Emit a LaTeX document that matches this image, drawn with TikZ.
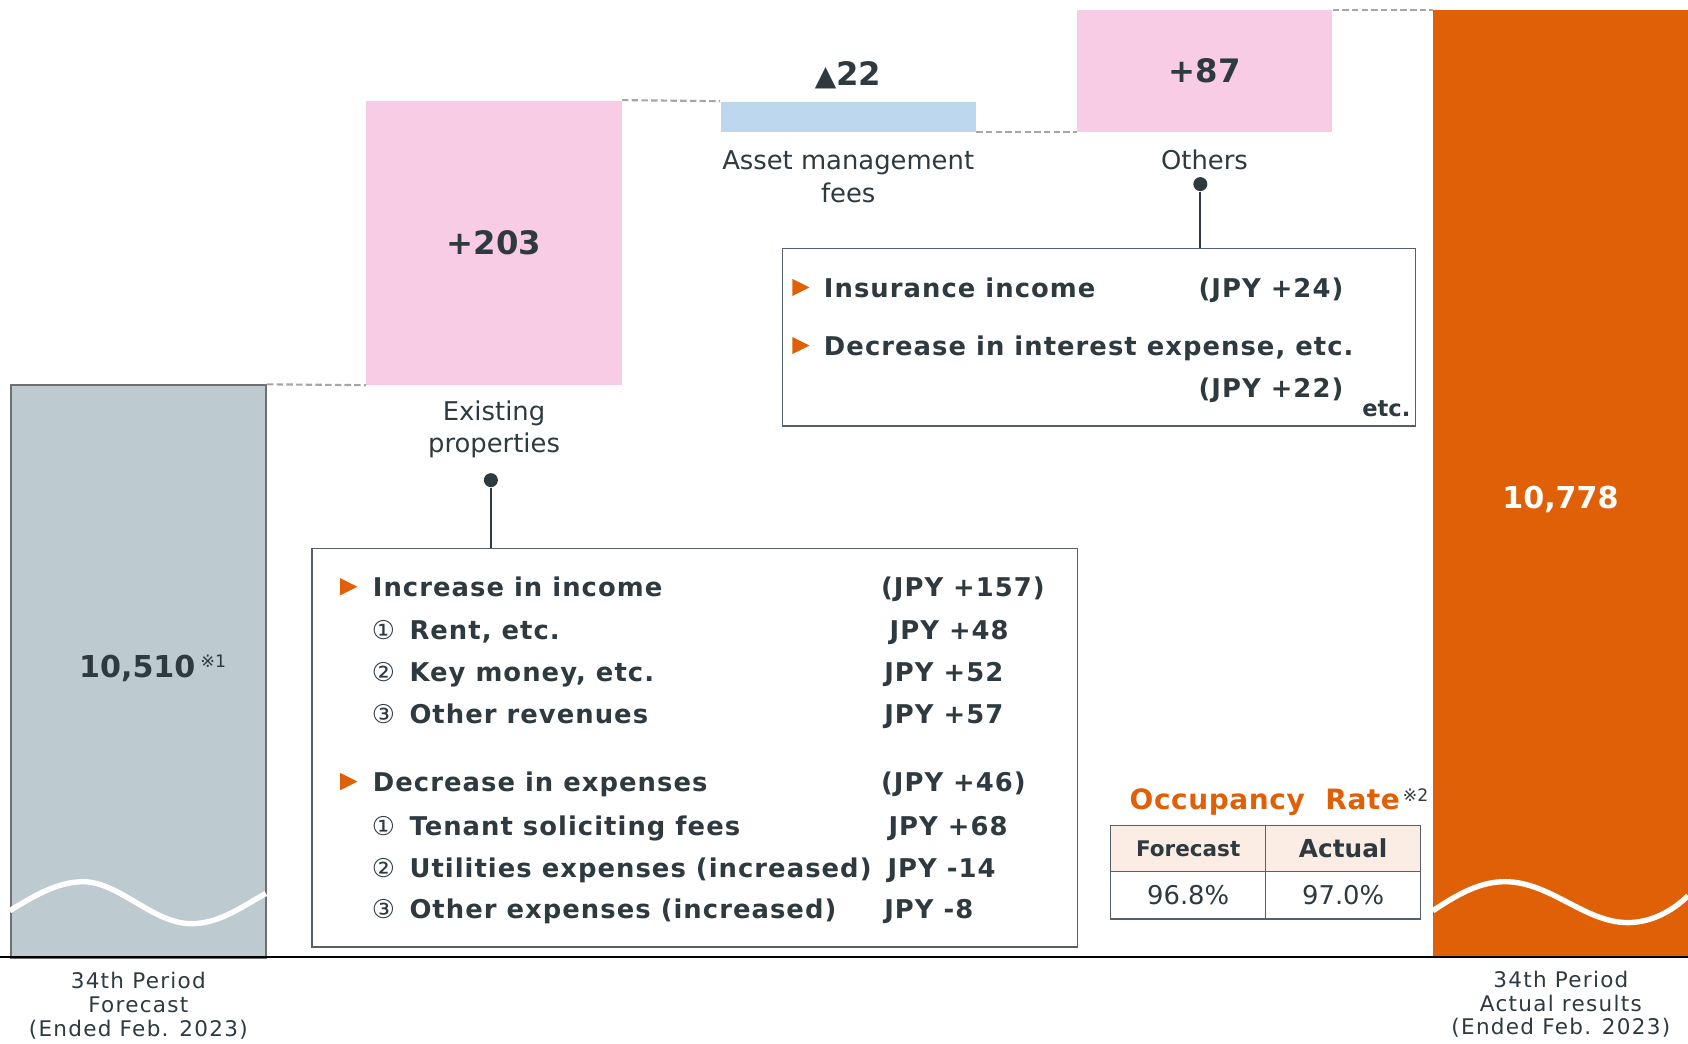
\documentclass[tikz,border=0pt]{standalone}
\usepackage{fontspec}
\setmainfont{DejaVu Sans}
\usepackage{tikz}
\usetikzlibrary{positioning}
\definecolor{ink}{HTML}{2E3A40}
\definecolor{barGray}{HTML}{BDCAD0}
\definecolor{barEdge}{HTML}{707070}
\definecolor{barPink}{HTML}{F8CCE4}
\definecolor{barBlue}{HTML}{BDD7EE}
\definecolor{barOrange}{HTML}{E06008}
\definecolor{dashGray}{HTML}{A6A6A6}
\definecolor{boxLine}{HTML}{55606A}
\definecolor{headFill}{HTML}{FCEDE4}
\tikzset{
    bar/.style = {anchor = north west, inner sep = 0pt, minimum width = 118.5pt},
    barvalue/.style = {inner sep = 0pt, text = ink,
        font = \fontsize{15}{18}\selectfont\bfseries},
    barname/.style = {align = center, inner sep = 0pt, text = ink,
        font = \fontsize{12}{15}\selectfont},
    period/.style = {align = center, inner sep = 0pt, text = ink,
        font = \fontsize{10}{11}\selectfont\addfontfeatures{LetterSpace=6}},
    note/.style = {inner sep = 0pt, text = ink, font = \fontsize{8}{8}\selectfont},
    gap/.style = {dashGray, line width = 1pt, dash pattern = on 3pt off 1.5pt},
    infobox/.style = {draw = boxLine, line width = 0.7pt, anchor = north west, inner sep = 0pt},
    item/.style = {anchor = base west, inner sep = 0pt, text = ink,
        font = \fontsize{12}{14}\selectfont\bfseries\addfontfeatures{LetterSpace=4}},
    circnum/.style = {anchor = base west, inner sep = 0pt, text = ink,
        font = \fontsize{12}{14}\selectfont},
    pindot/.style = {circle, fill = ink, inner sep = 0pt, minimum size = 6.5pt},
    pinline/.style = {ink, line width = 1pt},
    cell/.style = {draw = boxLine, line width = 0.7pt, anchor = north west,
        minimum width = 72pt, inner sep = 0pt, text = ink}
}

\begin{document}
\begin{tikzpicture}[x = 0.5pt, y = -0.5pt]
    \useasboundingbox (0,0) rectangle (1568,969);

    % Bars
    \node[bar, fill = barGray, draw = barEdge, line width = 1pt, minimum height = 266pt] (fcst) at (9,357) {};
    \node[bar, fill = barPink, minimum height = 132pt] (exist) at (340,93) {};
    \node[bar, fill = barBlue, minimum height = 14pt] (amfee) at (669,94) {};
    \node[bar, fill = barPink, minimum height = 56.5pt] (others) at (1000,9) {};
    \node[bar, fill = barOrange, minimum height = 440pt] (actual) at (1331,9) {};

    % Wave breaks
    \draw[white, line width = 2.5pt] (9,846) .. controls (35,830) and (55,819) .. (78,819)
        .. controls (112,820) and (142,858) .. (178,858) .. controls (205,858) and (228,840) .. (247,830);
    \draw[white, line width = 2.5pt] (1331,846) .. controls (1355,830) and (1375,819) .. (1398,819)
        .. controls (1440,819) and (1472,857) .. (1512,857) .. controls (1535,857) and (1555,845) .. (1568,832);

    % Base line
    \draw[black, line width = 1.2pt] (0,889) -- (1568,889);

    % Steps
    \draw[gap] (fcst.north east) -- (exist.south west);
    \draw[gap] (exist.north east) -- (amfee.north west);
    \draw[gap] (amfee.south east) -- (others.south west);
    \draw[gap] (others.north east) -- (actual.north west);

    % Values
    \node[barvalue, font = \fontsize{14}{16}\selectfont\bfseries] (fcstval) at (127.5,621) {10,510};
    \node[note, anchor = north west] (fcstnote) at ([xshift = 2pt]fcstval.north east) {※1};
    \node[barvalue] (existval) at (exist.center) {+203};
    \node[barvalue, above = 5.5pt of amfee] (amfeeval) {{\fontsize{13}{15}\selectfont ▲}22};
    \node[barvalue] (othersval) at (others.center) {+87};
    \node[barvalue, white, font = \fontsize{14}{16}\selectfont\bfseries] (actualval) at (1449.5,464) {10,778};

    % Names
    \node[barname, below = 7pt of exist] (existname) {Existing\\properties};
    \node[barname, below = 8.5pt of amfee] (amfeename) {Asset management\\fees};
    \node[barname, below = 8pt of others] (othersname) {Others};
    \node[period, below = 6pt of fcst] (fcstname) {34th Period\\Forecast\\(Ended Feb. 2023)};
    \node[period, below = 6pt of actual] (actualname) {34th Period\\Actual results\\(Ended Feb. 2023)};

    % Detail boxes
    \node[infobox, minimum width = 355.5pt, minimum height = 185pt] (box1) at (289,509) {};
    \node[infobox, minimum width = 294pt, minimum height = 82.5pt] (box2) at (726,230) {};

    \node[pindot] (dot1) at (456,446) {};
    \node[pindot] (dot2) at (1115,171) {};
    \draw[pinline] (dot1) -- (dot1 |- box1.north);
    \draw[pinline] (dot2) -- (dot2 |- box2.north);

    \foreach \y in {545,726} {
        \fill[barOrange] (316,\y-8) -- (332,\y) -- (316,\y+8) -- cycle;
    }
    \foreach \y in {267,321} {
        \fill[barOrange] (736,\y-8) -- (752,\y) -- (736,\y+8) -- cycle;
    }

    % Existing properties
    \node[item] (inc) at (346,554) {Increase in income};
    \node[item] (incv) at (818,554) {(JPY +157)};
    \node[circnum] (inc1n) at (345,594) {①};
    \node[item] (inc1) at (380,594) {Rent, etc.};
    \node[item] (inc1v) at (826,594) {JPY +48};
    \node[circnum] (inc2n) at (345,633) {②};
    \node[item] (inc2) at (380,633) {Key money, etc.};
    \node[item] (inc2v) at (821,633) {JPY +52};
    \node[circnum] (inc3n) at (345,672) {③};
    \node[item] (inc3) at (380,672) {Other revenues};
    \node[item] (inc3v) at (821,672) {JPY +57};

    \node[item] (dec) at (346,735) {Decrease in expenses};
    \node[item] (decv) at (818,735) {(JPY +46)};
    \node[circnum] (dec1n) at (345,776) {①};
    \node[item] (dec1) at (380,776) {Tenant soliciting fees};
    \node[item] (dec1v) at (825,776) {JPY +68};
    \node[circnum] (dec2n) at (345,815) {②};
    \node[item] (dec2) at (380,815) {Utilities expenses (increased)};
    \node[item] (dec2v) at (824,815) {JPY -14};
    \node[circnum] (dec3n) at (345,853) {③};
    \node[item] (dec3) at (380,853) {Other expenses (increased)};
    \node[item] (dec3v) at (821,853) {JPY -8};

    % Others
    \node[item] (ins) at (765,276) {Insurance income};
    \node[item] (insv) at (1113,276) {(JPY +24)};
    \node[item] (intr) at (765,330) {Decrease in interest expense, etc.};
    \node[item] (intrv) at (1113,369) {(JPY +22)};
    \node[item, font = \fontsize{10.5}{12}\selectfont\bfseries] (etc) at (1265,387) {etc.};

    % Occupancy rate
    \node[item, text = barOrange, font = \fontsize{13}{15}\selectfont\bfseries\addfontfeatures{LetterSpace=2}] (occ) at (1049,752) {Occupancy~~Rate};
    \node[note, anchor = north west] (occnote) at ([xshift = 1pt]occ.north east) {※2};
    \node[cell, fill = headFill, minimum height = 21.5pt, font = \fontsize{10}{12}\selectfont\bfseries] (hfc) at (1031,766) {Forecast};
    \node[cell, fill = headFill, minimum height = 21.5pt, font = \fontsize{11.5}{13}\selectfont\bfseries] (hac) at (1175,766) {Actual};
    \node[cell, minimum height = 22pt, font = \fontsize{12}{14}\selectfont] (vfc) at (1031,809) {96.8\%};
    \node[cell, minimum height = 22pt, font = \fontsize{12}{14}\selectfont] (vac) at (1175,809) {97.0\%};
\end{tikzpicture}
\end{document}
